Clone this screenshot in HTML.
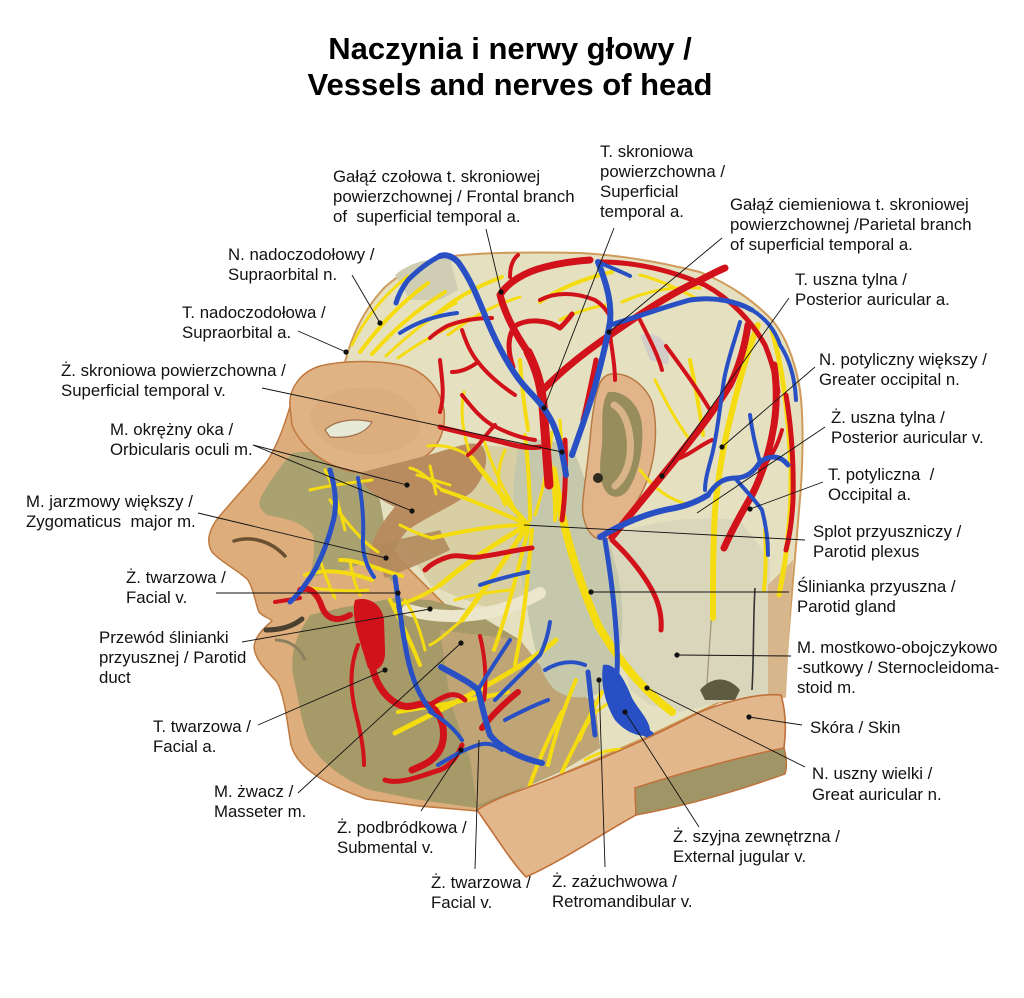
<!DOCTYPE html>
<html>
<head>
<meta charset="utf-8">
<style>
html,body{margin:0;padding:0;background:#fff;}
svg{display:block;}
.t{font-family:"Liberation Sans",Arial,sans-serif;font-size:16.8px;fill:#111;white-space:pre;}
.h{font-family:"Liberation Sans",Arial,sans-serif;font-size:31px;font-weight:bold;fill:#000;}
.r{fill:none;stroke:#d2121a;stroke-linecap:round;stroke-linejoin:round;}
.b{fill:none;stroke:#2850c4;stroke-linecap:round;stroke-linejoin:round;}
.y{fill:none;stroke:#f5dc10;stroke-linecap:round;stroke-linejoin:round;}
.l{fill:none;stroke:#111;stroke-width:0.9;}
</style>
</head>
<body>
<svg width="1024" height="998" viewBox="0 0 1024 998" xmlns="http://www.w3.org/2000/svg">
<rect width="1024" height="998" fill="#fff"/>

<!-- Title -->
<text class="h" x="510" y="59" text-anchor="middle">Naczynia i nerwy głowy /</text>
<text class="h" x="510" y="95" text-anchor="middle">Vessels and nerves of head</text>

<!-- ===== Head base (scalp) ===== -->
<path d="M345,362 C352,335 365,308 385,287 C402,272 420,262 445,257 C480,252 540,252 580,253 C620,255 660,262 700,272 C730,284 755,302 772,320 C785,335 795,360 800,390 C804,420 803,470 799,510 C795,560 789,620 784,697 L720,702 L640,740 L560,775 L477,810 L420,806 L366,798 L330,770 L300,700 L300,600 L290,530 L285,450 L295,390 Z" fill="#e5e1c0" stroke="#cf9a5a" stroke-width="2"/>

<!-- forehead grey patch -->
<path d="M395,275 C410,262 430,258 450,258 L458,290 L440,300 L410,300 Z" fill="#cfcdb4"/>
<!-- temple grey -->
<path d="M640,335 C660,330 672,345 668,365 L650,360 Z" fill="#c9c4cc" opacity="0.7"/>
<path d="M540,440 C552,448 560,470 556,500 L535,470 Z" fill="#c8c8b0" opacity="0.8"/>

<!-- SCM / right neck -->
<path d="M600,540 C640,522 690,515 740,520 L770,560 L772,697 L720,702 L680,712 L650,705 L630,690 L620,640 L615,600 Z" fill="#dad6bc"/>
<!-- trapezius strip -->
<path d="M768,585 L793,560 L786,697 L768,700 Z" fill="#d8b68c"/>
<path d="M755,588 C753,620 754,655 752,690" stroke="#333" stroke-width="1.6" fill="none"/>
<path d="M712,610 C710,640 708,665 707,685" stroke="#9c9470" stroke-width="1.2" fill="none"/>
<path d="M700,690 C712,676 728,676 740,690 L735,700 L705,700 Z" fill="#5e5c40"/>

<!-- ===== Face skin ===== -->
<path d="M292,400 C286,420 280,440 268,460 C252,480 233,500 218,518 C209,530 206,542 212,552 C222,563 238,570 248,580 C254,590 255,602 259,612 C263,617 270,618 272,621 C264,628 255,636 254,647 C255,660 266,670 277,682 C285,697 287,722 291,745 C297,767 322,783 366,799 L420,806 L477,811 L520,780 L480,640 L400,560 L330,460 Z" fill="#ddad7c" stroke="#c07a40" stroke-width="1.5"/>

<!-- Face olive interior (cheek) -->
<path d="M293,453 C283,462 273,477 262,495 C258,503 258,508 267,515 C282,518 300,520 313,535 C315,545 314,560 310,577 L345,570 L372,560 L395,585 L380,500 L358,465 C340,455 315,450 293,453 Z" fill="#aaa170"/>
<!-- lower face olive -->
<path d="M301,630 C293,645 291,660 293,675 C299,700 301,725 311,745 C323,765 345,780 370,790 L420,800 L477,808 L560,772 L600,748 L595,700 L560,690 L520,640 L470,610 L430,600 L395,598 L345,607 L310,615 Z" fill="#a69a68"/>
<!-- lower face lighter tan-brown -->
<path d="M440,630 L520,640 L560,690 L595,700 L600,748 L560,772 L477,805 L470,760 L450,700 Z" fill="#bfa476"/>
<!-- cream fascia -->
<path d="M405,478 L440,460 L480,445 L520,448 L532,520 L528,600 L500,612 L460,598 L430,585 L405,545 L392,510 Z" fill="#d8d0a4"/>

<!-- Parotid gland -->
<path d="M520,445 C540,435 560,440 575,455 C585,475 590,500 600,520 C612,545 620,575 622,605 C624,640 618,670 605,690 C590,700 570,700 555,690 C540,675 535,650 530,625 C525,595 520,570 515,545 C512,510 512,470 520,445 Z" fill="#c5c8ab"/>

<!-- Ear -->
<path d="M611,374 C628,372 645,385 652,402 C658,425 656,455 648,478 C640,500 628,515 620,528 C613,538 605,542 596,538 C586,532 581,516 583,500 C585,480 588,460 590,440 C592,415 595,395 600,383 C603,377 606,375 611,374 Z" fill="#e2b48a" stroke="#b87a45" stroke-width="1.5"/>
<path d="M608,392 C625,390 640,405 642,425 C644,450 638,475 628,490 C620,500 610,498 605,490 C598,478 600,460 602,445 C603,425 600,405 608,392 Z" fill="#978c5c"/>
<path d="M614,405 C626,412 632,432 630,455 C628,470 622,480 615,486" stroke="#d9b488" stroke-width="7" fill="none" stroke-linecap="round"/>
<circle cx="598" cy="478" r="5" fill="#2e2a20"/>

<!-- Brow flap -->
<path d="M290,407 C288,390 300,372 320,366 C345,360 380,360 405,366 C425,372 440,388 444,410 C446,428 440,445 427,455 C405,470 375,478 345,470 C320,462 300,445 292,425 Z" fill="#e0b384" stroke="#c0783e" stroke-width="1.5"/>
<path d="M310,415 C318,395 345,385 375,388 C400,392 418,405 420,425 C418,445 395,455 365,455 C335,452 314,440 310,415 Z" fill="#d9a878" opacity="0.6"/>
<path d="M325,430 C335,420 355,418 372,422 C366,433 350,439 330,437 Z" fill="#e6ead6" stroke="#a07050" stroke-width="1.2"/>
<!-- orbicularis lower band -->
<path d="M362,472 C385,466 420,458 445,450 C460,446 472,440 482,446 C490,456 486,476 472,492 C452,507 428,516 408,530 C398,540 392,555 387,568 C380,574 370,568 368,557 C372,537 385,518 395,507 C380,500 366,490 362,480 Z" fill="#b98c60"/>
<!-- zygomatic band -->
<path d="M372,545 C395,540 420,535 440,530 L450,550 C430,560 405,570 385,578 Z" fill="#b38a5c" opacity="0.9"/>

<!-- Nose / mouth details -->
<path d="M234,541 C250,536 270,540 285,556" stroke="#6a5030" stroke-width="3.5" fill="none" stroke-linecap="round"/>
<path d="M266,630 C280,630 292,627 302,619" stroke="#4a4030" stroke-width="5" fill="none" stroke-linecap="round"/>
<path d="M275,640 C290,640 300,648 305,660" stroke="#8c8060" stroke-width="3" fill="none"/>

<!-- parotid duct -->
<path d="M408,610 C450,622 500,616 540,593" stroke="#ece7cc" stroke-width="12" fill="none" stroke-linecap="round"/>

<!-- ===== NERVES (yellow) ===== -->
<g class="y">
<path stroke-width="5" d="M528,525 C510,505 490,482 472,458"/>
<path stroke-width="4" d="M528,525 C500,512 472,500 442,490"/>
<path stroke-width="4" d="M528,525 C498,525 468,530 432,538"/>
<path stroke-width="5" d="M528,525 C500,540 470,560 440,585"/>
<path stroke-width="5" d="M528,525 C508,555 488,585 462,620"/>
<path stroke-width="4" d="M528,530 C518,570 508,610 494,650"/>
<path stroke-width="4" d="M532,530 C528,575 524,620 515,665"/>
<path stroke-width="4" d="M530,520 C530,490 528,462 525,435"/>
<path stroke-width="3" d="M535,515 C544,488 549,460 552,432"/>
<path stroke-width="3" d="M520,518 C505,492 492,468 484,440"/>
<path stroke-width="3" d="M472,458 C458,448 444,444 428,446"/>
<path stroke-width="3" d="M472,460 C462,432 460,412 464,392"/>
<path stroke-width="3" d="M505,505 C495,485 498,465 505,450"/>
<path stroke-width="3" d="M442,490 C430,480 420,470 410,468"/>
<path stroke-width="3" d="M432,538 C420,535 410,530 400,525"/>
<path stroke-width="4" d="M440,585 C425,595 410,602 395,605"/>
<path stroke-width="3" d="M462,620 C450,630 440,640 430,645"/>
<path stroke-width="3" d="M417,475 L450,485 M430,466 L436,494"/>
<path stroke-width="8" d="M553,470 C563,530 578,580 598,625 C618,660 643,690 672,712"/>
<path stroke-width="4" d="M545,440 C552,468 556,495 555,520"/>
<path stroke-width="3" d="M560,420 C562,450 564,470 566,490"/>
<path stroke-width="4" d="M520,360 C522,390 525,410 528,430"/>
<path stroke-width="6" d="M713,618 C713,580 713,545 715,510 C718,480 722,450 730,420 C737,390 746,355 758,325"/>
<path stroke-width="5" d="M772,330 C783,370 789,420 791,470 C792,515 787,555 779,595"/>
<path stroke-width="4" d="M765,530 C766,550 766,570 764,590"/>
<path stroke-width="4" d="M690,360 C695,385 700,410 703,435"/>
<path stroke-width="3" d="M655,380 C665,400 675,420 690,440"/>
<path stroke-width="3" d="M640,470 C655,490 670,500 690,505"/>
<path stroke-width="4" d="M432,318 C452,300 475,287 502,277"/>
<path stroke-width="3" d="M448,335 C468,320 490,306 520,297"/>
<path stroke-width="4" d="M540,302 C560,288 585,278 612,272"/>
<path stroke-width="3" d="M622,302 C645,292 668,286 700,288"/>
<path stroke-width="3" d="M560,320 C575,312 590,308 605,305"/>
<path stroke-width="3" d="M640,275 C660,280 680,290 700,300"/>
<path stroke-width="4" d="M360,352 C378,328 398,305 428,283"/>
<path stroke-width="4" d="M372,354 C392,332 412,313 445,292"/>
<path stroke-width="3" d="M386,356 C406,337 426,320 456,303"/>
<path stroke-width="3" d="M352,345 C364,320 383,296 408,276"/>
<path stroke-width="3" d="M398,358 C420,342 445,328 470,318"/>
<path stroke-width="4" d="M548,765 C555,735 565,705 576,680"/>
<path stroke-width="4" d="M562,772 C576,742 590,716 602,692"/>
<path stroke-width="4" d="M528,790 C538,762 548,738 562,712"/>
<path stroke-width="3" d="M580,740 C586,722 596,708 612,702"/>
<path stroke-width="3" d="M585,760 C600,752 612,748 625,750"/>
<path stroke-width="5" d="M395,733 C430,715 470,696 510,672 C530,660 545,650 556,640"/>
<path stroke-width="4" d="M398,712 C440,705 480,698 508,692"/>
<path stroke-width="4" d="M390,600 C400,620 410,640 420,665"/>
<path stroke-width="3" d="M405,600 C415,615 420,630 425,650"/>
<path stroke-width="3" d="M455,600 C470,595 490,592 510,590"/>
<path stroke-width="3" d="M310,490 C330,485 350,483 372,480"/>
<path stroke-width="3" d="M330,500 C345,520 360,540 378,552"/>
<path stroke-width="4" d="M340,560 C360,560 380,570 402,576"/>
<path stroke-width="3" d="M325,470 C335,490 340,510 345,530"/>
<path stroke-width="4" d="M305,575 C325,568 350,572 372,580"/>
<path stroke-width="3" d="M310,588 C330,590 350,592 368,590"/>
<path stroke-width="3" d="M320,560 C325,575 330,588 335,598"/>
<path stroke-width="3" d="M350,560 C352,575 355,585 360,595"/>
</g>

<!-- ===== ARTERIES (red) ===== -->
<g class="r">
<path stroke-width="9" d="M549,485 C547,460 545,430 543,405 C541,385 537,370 528,352"/>
<path stroke-width="7" d="M530,355 C518,338 506,318 500,295 C508,282 525,272 545,267 C560,263 575,261 590,260"/>
<path stroke-width="4" d="M510,277 C510,268 512,260 518,255"/>
<path stroke-width="4" d="M492,318 C478,318 462,320 447,326 C440,330 434,334 430,338"/>
<path stroke-width="5" d="M513,367 C507,350 508,335 515,326 C528,318 548,320 560,328 C566,322 570,317 572,314"/>
<path stroke-width="4" d="M540,300 C555,292 575,292 595,300 C603,305 608,312 611,318"/>
<path stroke-width="7" d="M541,392 C560,372 585,352 610,335 C635,318 660,300 690,285 C705,278 715,272 725,268"/>
<path stroke-width="5" d="M600,262 C640,262 675,272 705,285 C732,300 752,322 765,345 C772,362 776,378 778,392"/>
<path stroke-width="4" d="M640,320 C650,340 658,355 662,370"/>
<path stroke-width="4" d="M610,335 C612,350 615,365 615,380"/>
<path stroke-width="4" d="M535,440 C520,438 505,432 492,425 C480,418 470,405 462,395"/>
<path stroke-width="4" d="M495,425 C485,435 478,448 468,455"/>
<path stroke-width="4" d="M515,395 C500,385 488,375 478,362 C470,352 466,342 462,330"/>
<path stroke-width="4" d="M478,362 C470,368 462,372 452,372"/>
<path stroke-width="4" d="M440,360 C442,380 445,395 440,412"/>
<path stroke-width="5" d="M540,447 C520,450 500,440 480,437 C462,432 450,430 440,427"/>
<path stroke-width="5" d="M532,548 C515,550 500,554 485,556 C470,560 460,553 448,557 C438,560 430,565 425,570"/>
<path stroke-width="7" d="M612,537 C630,515 652,488 675,460 C695,435 715,410 730,385 C740,365 745,345 748,325"/>
<path stroke-width="4" d="M675,460 C690,455 700,445 712,440"/>
<path stroke-width="4" d="M666,346 C680,365 695,385 710,410"/>
<path stroke-width="7" d="M724,548 C732,530 742,512 752,495 C762,475 770,450 774,425 C777,405 777,385 774,365"/>
<path stroke-width="5" d="M786,395 C791,425 794,460 793,500 C792,520 790,535 786,550"/>
<path stroke-width="4" d="M760,470 C770,460 778,445 782,430"/>
<path stroke-width="5" d="M612,540 C628,555 642,572 652,590 C660,605 662,618 661,630"/>
<path stroke-width="5" d="M565,440 C566,470 565,500 562,520"/>
<path stroke-width="5" d="M583,420 C588,400 592,380 596,360"/>
<path stroke-width="6" d="M300,590 C310,585 318,595 322,607 C327,620 338,622 350,615"/>
<path stroke-width="4" d="M300,598 L275,602"/>
<path stroke-width="7" d="M372,666 C377,688 388,700 400,705 C412,710 420,700 430,706 C442,714 446,730 442,745 C437,760 424,765 412,770"/>
<path stroke-width="4" d="M358,645 C350,665 350,688 355,710 C360,730 364,748 364,765"/>
<path stroke-width="5" d="M430,705 C445,695 455,690 465,700"/>
<path stroke-width="6" d="M482,728 C492,715 502,705 518,692"/>
<path stroke-width="4" d="M480,636 C485,656 487,680 484,700"/>
<path stroke-width="5" d="M385,780 C400,785 420,776 440,770 C452,765 458,755 462,745"/>
</g>
<path d="M355,600 C370,596 382,605 384,620 L385,650 C386,666 376,674 368,668 L360,642 C355,625 352,610 355,600 Z" fill="#d2121a"/>

<!-- ===== VEINS (blue) ===== -->
<g class="b">
<path stroke-width="6" d="M566,475 C562,450 558,432 550,418 C540,400 528,392 518,378 C505,360 495,340 486,318 C478,298 470,278 458,262 C452,256 446,254 440,256"/>
<path stroke-width="5" d="M440,256 C428,262 418,270 408,280 C402,288 398,296 396,303"/>
<path stroke-width="4" d="M400,333 C420,320 440,315 457,313"/>
<path stroke-width="6" d="M572,455 C580,432 588,410 594,390 C600,368 606,345 610,322 C612,302 606,282 598,262"/>
<path stroke-width="5" d="M610,325 C635,318 660,308 690,300 C715,296 738,302 752,310"/>
<path stroke-width="4" d="M598,262 C612,268 622,272 630,276"/>
<path stroke-width="4" d="M740,322 C735,340 728,358 724,380 C720,405 718,430 712,455 C708,470 705,480 705,490"/>
<path stroke-width="4" d="M752,310 C765,318 775,330 780,345 C790,360 795,380 796,400"/>
<path stroke-width="6" d="M600,537 C625,522 650,512 675,508 C690,505 700,500 708,495"/>
<path stroke-width="5" d="M708,495 C715,485 722,478 735,478 C748,478 755,470 760,462 C770,455 780,455 788,465"/>
<path stroke-width="4" d="M735,478 C745,490 755,500 762,510 C766,525 768,540 768,555"/>
<path stroke-width="4" d="M760,462 C755,445 752,430 750,415"/>
<path stroke-width="5" d="M605,540 C610,570 614,600 616,630 C618,655 618,675 615,690"/>
<path stroke-width="8" d="M608,670 C612,690 618,705 628,718 C638,728 645,732 650,735"/>
<path stroke-width="5" d="M588,672 C590,690 592,710 595,735"/>
<path stroke-width="6" d="M441,667 C455,675 470,682 478,690 C482,705 485,720 490,735 C500,748 520,758 542,763"/>
<path stroke-width="4" d="M478,690 C490,670 500,655 510,640"/>
<path stroke-width="4" d="M495,700 C510,685 525,670 540,655 C545,645 548,635 550,622"/>
<path stroke-width="4" d="M505,720 C520,712 535,705 548,700"/>
<path stroke-width="4" d="M438,765 C450,758 462,750 478,745 C488,742 496,745 502,750"/>
<path stroke-width="4" d="M545,670 C558,662 572,660 585,665"/>
<path stroke-width="4" d="M480,585 C500,578 515,575 528,572"/>
<path stroke-width="5" d="M290,602 C298,595 308,582 316,568 C324,552 330,535 334,518 C337,502 335,487 330,470"/>
<path stroke-width="4" d="M358,478 C362,498 364,518 363,538 C362,555 367,567 374,577"/>
<path stroke-width="5" d="M395,577 C398,600 402,630 407,655 C412,680 420,698 432,712"/>
<path stroke-width="4" d="M430,712 C445,720 455,730 462,740"/>
</g>
<path d="M603,665 C615,662 625,680 632,698 C640,712 652,722 650,735 C640,738 625,732 615,720 C606,705 600,685 603,665 Z" fill="#2850c4"/>

<!-- ===== Skin flap ===== -->
<path d="M477,810 C500,795 530,788 560,775 C600,760 650,738 700,712 C730,700 760,693 781,695 C786,712 786,732 784,748 C750,755 690,770 635,788 L636,815 C600,835 560,862 526,877 C510,860 495,835 477,810 Z" fill="#e2b78b" stroke="#c0703a" stroke-width="1.6"/>
<path d="M635,788 C690,770 750,755 784,748 C787,758 787,768 785,774 C740,790 690,805 636,815 Z" fill="#a09566" stroke="#c0703a" stroke-width="1.4"/>

<!-- ===== Connector lines ===== -->
<g class="l">
<path d="M486,229 L501,292"/>
<path d="M614,228 L544,408"/>
<path d="M722,238 L609,332"/>
<path d="M789,298 L662,476"/>
<path d="M815,367 L722,447"/>
<path d="M825,427 L697,513"/>
<path d="M823,482 L750,509"/>
<path d="M805,540 L524,525"/>
<path d="M789,592 L591,592"/>
<path d="M791,656 L677,655"/>
<path d="M802,725 L749,717"/>
<path d="M805,767 L647,688"/>
<path d="M699,827 L625,712"/>
<path d="M605,867 L599,680"/>
<path d="M475,869 L479,740"/>
<path d="M421,811 L461,750"/>
<path d="M298,793 L461,643"/>
<path d="M258,725 L385,670"/>
<path d="M242,642 L430,609"/>
<path d="M216,593 L398,593"/>
<path d="M198,513 L386,558"/>
<path d="M253,445 L407,485"/>
<path d="M253,445 L412,511"/>
<path d="M262,388 L562,452"/>
<path d="M298,331 L346,352"/>
<path d="M352,275 L380,323"/>
</g>
<g fill="#111">
<circle cx="501" cy="292" r="2.6"/>
<circle cx="544" cy="408" r="2.6"/>
<circle cx="609" cy="332" r="2.6"/>
<circle cx="662" cy="476" r="2.6"/>
<circle cx="722" cy="447" r="2.6"/>
<circle cx="750" cy="509" r="2.6"/>
<circle cx="591" cy="592" r="2.6"/>
<circle cx="677" cy="655" r="2.6"/>
<circle cx="749" cy="717" r="2.6"/>
<circle cx="647" cy="688" r="2.6"/>
<circle cx="625" cy="712" r="2.6"/>
<circle cx="599" cy="680" r="2.6"/>
<circle cx="461" cy="750" r="2.6"/>
<circle cx="461" cy="643" r="2.6"/>
<circle cx="385" cy="670" r="2.6"/>
<circle cx="430" cy="609" r="2.6"/>
<circle cx="398" cy="593" r="2.6"/>
<circle cx="386" cy="558" r="2.6"/>
<circle cx="407" cy="485" r="2.6"/>
<circle cx="412" cy="511" r="2.6"/>
<circle cx="562" cy="452" r="2.6"/>
<circle cx="346" cy="352" r="2.6"/>
<circle cx="380" cy="323" r="2.6"/>
</g>

<!-- ===== Labels ===== -->
<text class="t" x="333" y="182">Gałąź czołowa t. skroniowej</text>
<text class="t" x="333" y="202">powierzchownej / Frontal branch</text>
<text class="t" x="333" y="222">of  superficial temporal a.</text>

<text class="t" x="600" y="157">T. skroniowa</text>
<text class="t" x="600" y="177">powierzchowna /</text>
<text class="t" x="600" y="197">Superficial</text>
<text class="t" x="600" y="217">temporal a.</text>

<text class="t" x="730" y="210">Gałąź ciemieniowa t. skroniowej</text>
<text class="t" x="730" y="230">powierzchownej /Parietal branch</text>
<text class="t" x="730" y="250">of superficial temporal a.</text>

<text class="t" x="228" y="260">N. nadoczodołowy /</text>
<text class="t" x="228" y="280">Supraorbital n.</text>

<text class="t" x="182" y="318">T. nadoczodołowa /</text>
<text class="t" x="182" y="338">Supraorbital a.</text>

<text class="t" x="61" y="376">Ż. skroniowa powierzchowna /</text>
<text class="t" x="61" y="396">Superficial temporal v.</text>

<text class="t" x="110" y="435">M. okrężny oka /</text>
<text class="t" x="110" y="455">Orbicularis oculi m.</text>

<text class="t" x="26" y="507">M. jarzmowy większy /</text>
<text class="t" x="26" y="527">Zygomaticus  major m.</text>

<text class="t" x="126" y="583">Ż. twarzowa /</text>
<text class="t" x="126" y="603">Facial v.</text>

<text class="t" x="99" y="643">Przewód ślinianki</text>
<text class="t" x="99" y="663">przyusznej / Parotid</text>
<text class="t" x="99" y="683">duct</text>

<text class="t" x="153" y="732">T. twarzowa /</text>
<text class="t" x="153" y="752">Facial a.</text>

<text class="t" x="214" y="797">M. żwacz /</text>
<text class="t" x="214" y="817">Masseter m.</text>

<text class="t" x="337" y="833">Ż. podbródkowa /</text>
<text class="t" x="337" y="853">Submental v.</text>

<text class="t" x="431" y="888">Ż. twarzowa /</text>
<text class="t" x="431" y="908">Facial v.</text>

<text class="t" x="552" y="887">Ż. zażuchwowa /</text>
<text class="t" x="552" y="907">Retromandibular v.</text>

<text class="t" x="673" y="842">Ż. szyjna zewnętrzna /</text>
<text class="t" x="673" y="862">External jugular v.</text>

<text class="t" x="812" y="779">N. uszny wielki /</text>
<text class="t" x="812" y="800">Great auricular n.</text>

<text class="t" x="810" y="733">Skóra / Skin</text>

<text class="t" x="797" y="653">M. mostkowo-obojczykowo</text>
<text class="t" x="797" y="673">-sutkowy / Sternocleidoma-</text>
<text class="t" x="797" y="693">stoid m.</text>

<text class="t" x="797" y="592">Ślinianka przyuszna /</text>
<text class="t" x="797" y="612">Parotid gland</text>

<text class="t" x="813" y="537">Splot przyuszniczy /</text>
<text class="t" x="813" y="557">Parotid plexus</text>

<text class="t" x="828" y="480">T. potyliczna  /</text>
<text class="t" x="828" y="500">Occipital a.</text>

<text class="t" x="831" y="423">Ż. uszna tylna /</text>
<text class="t" x="831" y="443">Posterior auricular v.</text>

<text class="t" x="819" y="365">N. potyliczny większy /</text>
<text class="t" x="819" y="385">Greater occipital n.</text>

<text class="t" x="795" y="285">T. uszna tylna /</text>
<text class="t" x="795" y="305">Posterior auricular a.</text>
</svg>
</body>
</html>
